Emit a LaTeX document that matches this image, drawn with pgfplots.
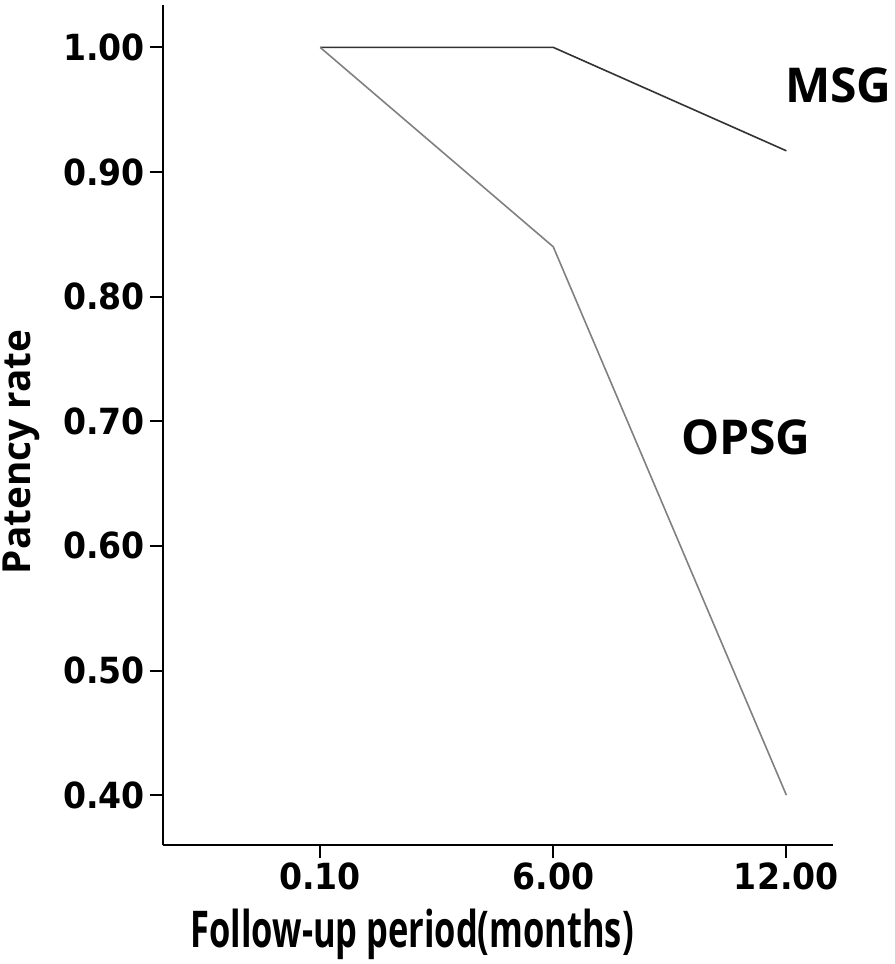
\documentclass[border=0pt]{standalone}
\usepackage{fontspec}
\setmainfont{Open Sans}
\newfontfamily\tickfont{DejaVu Sans}[FakeStretch=0.92]
\newfontfamily\labfont{Open Sans}[FakeStretch=0.68]
\usepackage{pgfplots}
\pgfplotsset{compat=1.18}
\begin{document}
\begin{tikzpicture}[x=0.75pt,y=0.75pt]
\path[use as bounding box] (0,0) rectangle (894,964);
\begin{axis}[
  at={(163*0.75pt,119*0.75pt)}, anchor=south west,
  scale only axis,
  width=670*0.75pt, height=840*0.75pt,
  xmin=-0.674, xmax=2.2,
  ymin=0.36, ymax=1.034,
  axis x line*=bottom, axis y line*=left,
  axis line style={line width=1.5pt, -},
  xtick={0,1,2}, xticklabels={0.10,6.00,12.00},
  ytick={0.4,0.5,0.6,0.7,0.8,0.9,1.0},
  yticklabel style={/pgf/number format/.cd, fixed, fixed zerofill, precision=2},
  /pgf/number format/assume math mode=true,
  tick style={line width=1.5pt, black},
  tick align=outside, major tick length=10pt,
  ticklabel style={font=\tickfont\bfseries\fontsize{27}{30}\selectfont},
  xlabel={Follow-up period(months)},
  ylabel={Patency rate},
  xlabel style={font=\labfont\bfseries\fontsize{38}{40}\selectfont, at={(axis description cs:0.372,0)}, anchor=base, yshift=-76.5pt},
  ylabel style={font=\bfseries\fontsize{29}{32}\selectfont, at={(axis description cs:-0.212,0.468)}, anchor=center},
  clip=false,
]
\addplot[color=black!80, line width=1.2pt] coordinates {(0,1.00) (1,1.00) (2,0.917)};
\addplot[color=black!50, line width=1.2pt] coordinates {(0,1.00) (1,0.84) (2,0.40)};
\node[anchor=west, font=\bfseries\fontsize{36}{38}\selectfont] at (axis cs:1.975,0.9695) {MSG};
\node[anchor=west, font=\bfseries\fontsize{36}{38}\selectfont] at (axis cs:1.528,0.687) {OPSG};
\end{axis}
\end{tikzpicture}
\end{document}
